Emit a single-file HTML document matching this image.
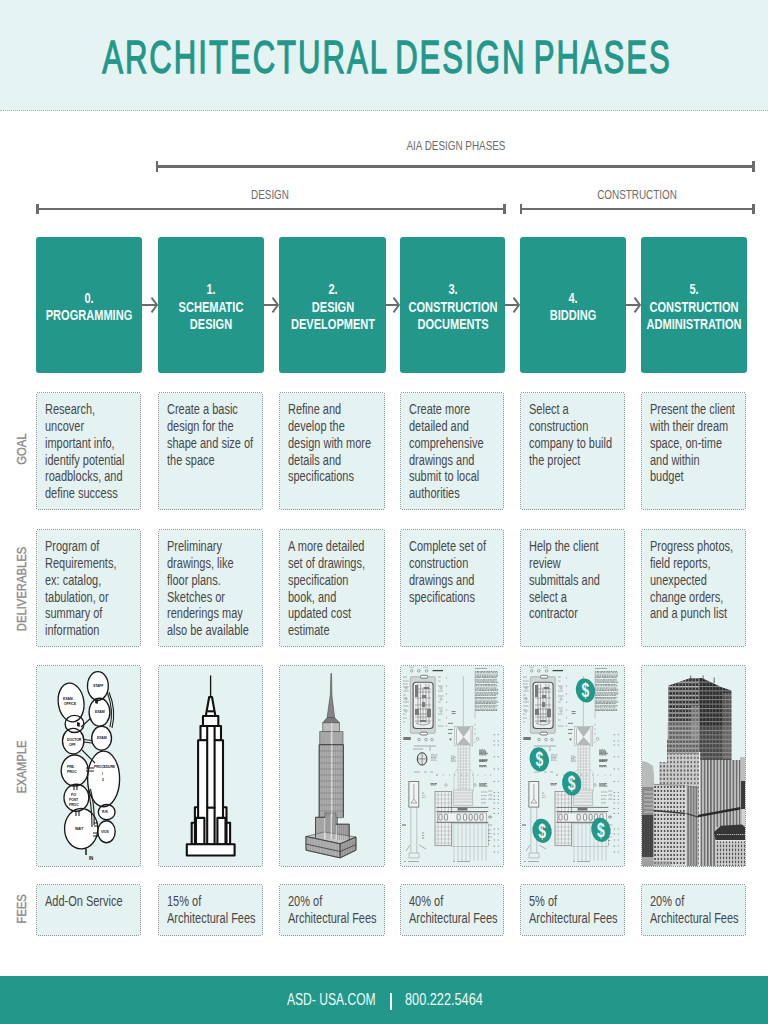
<!DOCTYPE html>
<html><head><meta charset="utf-8"><style>
html,body{margin:0;padding:0;width:768px;height:1024px;overflow:hidden;background:#fff}
body{position:relative;font-family:"Liberation Sans",sans-serif}
.t{position:absolute;white-space:nowrap}
</style></head><body>
<div style="position:absolute;left:0;top:0;width:768px;height:110px;background:#e6f3f3;border-bottom:1px dotted #a9b4b4"></div>
<div class="t" style="left:-213.2px;top:26.79px;width:1200px;text-align:center;font-size:46.5px;line-height:60px;color:#23978a;-webkit-text-stroke:1.3px #23978a;letter-spacing:3.0px;word-spacing:-5px;transform:scaleX(0.6685);transform-origin:600px 0">ARCHITECTURAL DESIGN PHASES</div>
<div class="t" style="left:255.5px;top:136.43px;width:400px;text-align:center;font-size:13.2px;line-height:20px;color:#6b6b6b;transform:scaleX(0.75);transform-origin:200px 0">AIA DESIGN PHASES</div>
<div class="t" style="left:70.25px;top:184.63px;width:400px;text-align:center;font-size:13.2px;line-height:20px;color:#6b6b6b;transform:scaleX(0.75);transform-origin:200px 0">DESIGN</div>
<div class="t" style="left:436.54999999999995px;top:184.83px;width:400px;text-align:center;font-size:13.2px;line-height:20px;color:#6b6b6b;transform:scaleX(0.75);transform-origin:200px 0">CONSTRUCTION</div>
<div style="position:absolute;left:156.5px;top:165.2px;width:597.5px;height:2.6px;background:#6b6b6b"></div>
<div style="position:absolute;left:155.5px;top:161.2px;width:2.6px;height:10.6px;background:#6b6b6b"></div>
<div style="position:absolute;left:752.4px;top:161.2px;width:2.6px;height:10.6px;background:#6b6b6b"></div>
<div style="position:absolute;left:37px;top:207.89999999999998px;width:468px;height:2.6px;background:#6b6b6b"></div>
<div style="position:absolute;left:36px;top:203.89999999999998px;width:2.6px;height:10.6px;background:#6b6b6b"></div>
<div style="position:absolute;left:503.4px;top:203.89999999999998px;width:2.6px;height:10.6px;background:#6b6b6b"></div>
<div style="position:absolute;left:520.5px;top:207.89999999999998px;width:233.5px;height:2.6px;background:#6b6b6b"></div>
<div style="position:absolute;left:519.5px;top:203.89999999999998px;width:2.6px;height:10.6px;background:#6b6b6b"></div>
<div style="position:absolute;left:752.4px;top:203.89999999999998px;width:2.6px;height:10.6px;background:#6b6b6b"></div>
<div style="position:absolute;left:36px;top:237px;width:106px;height:136px;background:#23978a;border-radius:3px"></div>
<div class="t" style="left:-61.0px;top:290.06px;width:300px;text-align:center;font-size:14.6px;line-height:17.2px;font-weight:bold;color:#f4fbfa;transform:scaleX(0.757);transform-origin:150px 0">0.<br>PROGRAMMING</div>
<div style="position:absolute;left:158px;top:237px;width:106px;height:136px;background:#23978a;border-radius:3px"></div>
<div class="t" style="left:61.0px;top:281.46px;width:300px;text-align:center;font-size:14.6px;line-height:17.2px;font-weight:bold;color:#f4fbfa;transform:scaleX(0.757);transform-origin:150px 0">1.<br>SCHEMATIC<br>DESIGN</div>
<div style="position:absolute;left:279px;top:237px;width:107px;height:136px;background:#23978a;border-radius:3px"></div>
<div class="t" style="left:182.5px;top:281.46px;width:300px;text-align:center;font-size:14.6px;line-height:17.2px;font-weight:bold;color:#f4fbfa;transform:scaleX(0.757);transform-origin:150px 0">2.<br>DESIGN<br>DEVELOPMENT</div>
<div style="position:absolute;left:400px;top:237px;width:105px;height:136px;background:#23978a;border-radius:3px"></div>
<div class="t" style="left:302.5px;top:281.46px;width:300px;text-align:center;font-size:14.6px;line-height:17.2px;font-weight:bold;color:#f4fbfa;transform:scaleX(0.757);transform-origin:150px 0">3.<br>CONSTRUCTION<br>DOCUMENTS</div>
<div style="position:absolute;left:520px;top:237px;width:106px;height:136px;background:#23978a;border-radius:3px"></div>
<div class="t" style="left:423.0px;top:290.06px;width:300px;text-align:center;font-size:14.6px;line-height:17.2px;font-weight:bold;color:#f4fbfa;transform:scaleX(0.757);transform-origin:150px 0">4.<br>BIDDING</div>
<div style="position:absolute;left:641px;top:237px;width:106px;height:136px;background:#23978a;border-radius:3px"></div>
<div class="t" style="left:544.0px;top:281.46px;width:300px;text-align:center;font-size:14.6px;line-height:17.2px;font-weight:bold;color:#f4fbfa;transform:scaleX(0.757);transform-origin:150px 0">5.<br>CONSTRUCTION<br>ADMINISTRATION</div>
<svg style="position:absolute;left:142px;top:295px" width="16" height="20" viewBox="0 0 16 20"><path d="M0 10 H15 M9.5 2.6 L15 10 L9.5 17.4" fill="none" stroke="#6b6b6b" stroke-width="2"/></svg>
<svg style="position:absolute;left:264px;top:295px" width="15" height="20" viewBox="0 0 15 20"><path d="M0 10 H14 M8.5 2.6 L14 10 L8.5 17.4" fill="none" stroke="#6b6b6b" stroke-width="2"/></svg>
<svg style="position:absolute;left:386px;top:295px" width="14" height="20" viewBox="0 0 14 20"><path d="M0 10 H13 M7.5 2.6 L13 10 L7.5 17.4" fill="none" stroke="#6b6b6b" stroke-width="2"/></svg>
<svg style="position:absolute;left:505px;top:295px" width="15" height="20" viewBox="0 0 15 20"><path d="M0 10 H14 M8.5 2.6 L14 10 L8.5 17.4" fill="none" stroke="#6b6b6b" stroke-width="2"/></svg>
<svg style="position:absolute;left:626px;top:295px" width="15" height="20" viewBox="0 0 15 20"><path d="M0 10 H14 M8.5 2.6 L14 10 L8.5 17.4" fill="none" stroke="#6b6b6b" stroke-width="2"/></svg>
<svg style="position:absolute;left:36px;top:392px" width="105" height="118"><rect x="0.5" y="0.5" width="104" height="117" rx="2" fill="#e5f2f2" stroke="#8c9696" stroke-width="1" stroke-dasharray="1 1" shape-rendering="crispEdges"/></svg>
<div class="t" style="left:44.8px;top:401.25px;font-size:14px;line-height:16.8px;color:#474747;transform:scaleX(0.785);transform-origin:0 0">Research,<br>uncover<br>important info,<br>identify potential<br>roadblocks, and<br>define success</div>
<svg style="position:absolute;left:158px;top:392px" width="105" height="118"><rect x="0.5" y="0.5" width="104" height="117" rx="2" fill="#e5f2f2" stroke="#8c9696" stroke-width="1" stroke-dasharray="1 1" shape-rendering="crispEdges"/></svg>
<div class="t" style="left:166.8px;top:401.25px;font-size:14px;line-height:16.8px;color:#474747;transform:scaleX(0.785);transform-origin:0 0">Create a basic<br>design for the<br>shape and size of<br>the space</div>
<svg style="position:absolute;left:279px;top:392px" width="106" height="118"><rect x="0.5" y="0.5" width="105" height="117" rx="2" fill="#e5f2f2" stroke="#8c9696" stroke-width="1" stroke-dasharray="1 1" shape-rendering="crispEdges"/></svg>
<div class="t" style="left:287.8px;top:401.25px;font-size:14px;line-height:16.8px;color:#474747;transform:scaleX(0.785);transform-origin:0 0">Refine and<br>develop the<br>design with more<br>details and<br>specifications</div>
<svg style="position:absolute;left:400px;top:392px" width="104" height="118"><rect x="0.5" y="0.5" width="103" height="117" rx="2" fill="#e5f2f2" stroke="#8c9696" stroke-width="1" stroke-dasharray="1 1" shape-rendering="crispEdges"/></svg>
<div class="t" style="left:408.8px;top:401.25px;font-size:14px;line-height:16.8px;color:#474747;transform:scaleX(0.785);transform-origin:0 0">Create more<br>detailed and<br>comprehensive<br>drawings and<br>submit to local<br>authorities</div>
<svg style="position:absolute;left:520px;top:392px" width="105" height="118"><rect x="0.5" y="0.5" width="104" height="117" rx="2" fill="#e5f2f2" stroke="#8c9696" stroke-width="1" stroke-dasharray="1 1" shape-rendering="crispEdges"/></svg>
<div class="t" style="left:528.8px;top:401.25px;font-size:14px;line-height:16.8px;color:#474747;transform:scaleX(0.785);transform-origin:0 0">Select a<br>construction<br>company to build<br>the project</div>
<svg style="position:absolute;left:641px;top:392px" width="105" height="118"><rect x="0.5" y="0.5" width="104" height="117" rx="2" fill="#e5f2f2" stroke="#8c9696" stroke-width="1" stroke-dasharray="1 1" shape-rendering="crispEdges"/></svg>
<div class="t" style="left:649.8px;top:401.25px;font-size:14px;line-height:16.8px;color:#474747;transform:scaleX(0.785);transform-origin:0 0">Present the client<br>with their dream<br>space, on-time<br>and within<br>budget</div>
<svg style="position:absolute;left:36px;top:529px" width="105" height="118"><rect x="0.5" y="0.5" width="104" height="117" rx="2" fill="#e5f2f2" stroke="#8c9696" stroke-width="1" stroke-dasharray="1 1" shape-rendering="crispEdges"/></svg>
<div class="t" style="left:44.8px;top:538.25px;font-size:14px;line-height:16.8px;color:#474747;transform:scaleX(0.785);transform-origin:0 0">Program of<br>Requirements,<br>ex: catalog,<br>tabulation, or<br>summary of<br>information</div>
<svg style="position:absolute;left:158px;top:529px" width="105" height="118"><rect x="0.5" y="0.5" width="104" height="117" rx="2" fill="#e5f2f2" stroke="#8c9696" stroke-width="1" stroke-dasharray="1 1" shape-rendering="crispEdges"/></svg>
<div class="t" style="left:166.8px;top:538.25px;font-size:14px;line-height:16.8px;color:#474747;transform:scaleX(0.785);transform-origin:0 0">Preliminary<br>drawings, like<br>floor plans.<br>Sketches or<br>renderings may<br>also be available</div>
<svg style="position:absolute;left:279px;top:529px" width="106" height="118"><rect x="0.5" y="0.5" width="105" height="117" rx="2" fill="#e5f2f2" stroke="#8c9696" stroke-width="1" stroke-dasharray="1 1" shape-rendering="crispEdges"/></svg>
<div class="t" style="left:287.8px;top:538.25px;font-size:14px;line-height:16.8px;color:#474747;transform:scaleX(0.785);transform-origin:0 0">A more detailed<br>set of drawings,<br>specification<br>book, and<br>updated cost<br>estimate</div>
<svg style="position:absolute;left:400px;top:529px" width="104" height="118"><rect x="0.5" y="0.5" width="103" height="117" rx="2" fill="#e5f2f2" stroke="#8c9696" stroke-width="1" stroke-dasharray="1 1" shape-rendering="crispEdges"/></svg>
<div class="t" style="left:408.8px;top:538.25px;font-size:14px;line-height:16.8px;color:#474747;transform:scaleX(0.785);transform-origin:0 0">Complete set of<br>construction<br>drawings and<br>specifications</div>
<svg style="position:absolute;left:520px;top:529px" width="105" height="118"><rect x="0.5" y="0.5" width="104" height="117" rx="2" fill="#e5f2f2" stroke="#8c9696" stroke-width="1" stroke-dasharray="1 1" shape-rendering="crispEdges"/></svg>
<div class="t" style="left:528.8px;top:538.25px;font-size:14px;line-height:16.8px;color:#474747;transform:scaleX(0.785);transform-origin:0 0">Help the client<br>review<br>submittals and<br>select a<br>contractor</div>
<svg style="position:absolute;left:641px;top:529px" width="105" height="118"><rect x="0.5" y="0.5" width="104" height="117" rx="2" fill="#e5f2f2" stroke="#8c9696" stroke-width="1" stroke-dasharray="1 1" shape-rendering="crispEdges"/></svg>
<div class="t" style="left:649.8px;top:538.25px;font-size:14px;line-height:16.8px;color:#474747;transform:scaleX(0.785);transform-origin:0 0">Progress photos,<br>field reports,<br>unexpected<br>change orders,<br>and a punch list</div>
<svg style="position:absolute;left:36px;top:665px" width="105" height="202"><rect x="0.5" y="0.5" width="104" height="201" rx="2" fill="#e5f2f2" stroke="#8c9696" stroke-width="1" stroke-dasharray="1 1" shape-rendering="crispEdges"/></svg>
<svg style="position:absolute;left:158px;top:665px" width="105" height="202"><rect x="0.5" y="0.5" width="104" height="201" rx="2" fill="#e5f2f2" stroke="#8c9696" stroke-width="1" stroke-dasharray="1 1" shape-rendering="crispEdges"/></svg>
<svg style="position:absolute;left:279px;top:665px" width="106" height="202"><rect x="0.5" y="0.5" width="105" height="201" rx="2" fill="#e5f2f2" stroke="#8c9696" stroke-width="1" stroke-dasharray="1 1" shape-rendering="crispEdges"/></svg>
<svg style="position:absolute;left:400px;top:665px" width="104" height="202"><rect x="0.5" y="0.5" width="103" height="201" rx="2" fill="#e5f2f2" stroke="#8c9696" stroke-width="1" stroke-dasharray="1 1" shape-rendering="crispEdges"/></svg>
<svg style="position:absolute;left:520px;top:665px" width="105" height="202"><rect x="0.5" y="0.5" width="104" height="201" rx="2" fill="#e5f2f2" stroke="#8c9696" stroke-width="1" stroke-dasharray="1 1" shape-rendering="crispEdges"/></svg>
<svg style="position:absolute;left:641px;top:665px" width="105" height="202"><rect x="0.5" y="0.5" width="104" height="201" rx="2" fill="#e5f2f2" stroke="#8c9696" stroke-width="1" stroke-dasharray="1 1" shape-rendering="crispEdges"/></svg>
<svg style="position:absolute;left:36px;top:884px" width="105" height="52"><rect x="0.5" y="0.5" width="104" height="51" rx="2" fill="#e5f2f2" stroke="#8c9696" stroke-width="1" stroke-dasharray="1 1" shape-rendering="crispEdges"/></svg>
<div class="t" style="left:44.8px;top:893.25px;font-size:14px;line-height:16.8px;color:#474747;transform:scaleX(0.785);transform-origin:0 0">Add-On Service</div>
<svg style="position:absolute;left:158px;top:884px" width="105" height="52"><rect x="0.5" y="0.5" width="104" height="51" rx="2" fill="#e5f2f2" stroke="#8c9696" stroke-width="1" stroke-dasharray="1 1" shape-rendering="crispEdges"/></svg>
<div class="t" style="left:166.8px;top:893.25px;font-size:14px;line-height:16.8px;color:#474747;transform:scaleX(0.785);transform-origin:0 0">15% of<br>Architectural Fees</div>
<svg style="position:absolute;left:279px;top:884px" width="106" height="52"><rect x="0.5" y="0.5" width="105" height="51" rx="2" fill="#e5f2f2" stroke="#8c9696" stroke-width="1" stroke-dasharray="1 1" shape-rendering="crispEdges"/></svg>
<div class="t" style="left:287.8px;top:893.25px;font-size:14px;line-height:16.8px;color:#474747;transform:scaleX(0.785);transform-origin:0 0">20% of<br>Architectural Fees</div>
<svg style="position:absolute;left:400px;top:884px" width="104" height="52"><rect x="0.5" y="0.5" width="103" height="51" rx="2" fill="#e5f2f2" stroke="#8c9696" stroke-width="1" stroke-dasharray="1 1" shape-rendering="crispEdges"/></svg>
<div class="t" style="left:408.8px;top:893.25px;font-size:14px;line-height:16.8px;color:#474747;transform:scaleX(0.785);transform-origin:0 0">40% of<br>Architectural Fees</div>
<svg style="position:absolute;left:520px;top:884px" width="105" height="52"><rect x="0.5" y="0.5" width="104" height="51" rx="2" fill="#e5f2f2" stroke="#8c9696" stroke-width="1" stroke-dasharray="1 1" shape-rendering="crispEdges"/></svg>
<div class="t" style="left:528.8px;top:893.25px;font-size:14px;line-height:16.8px;color:#474747;transform:scaleX(0.785);transform-origin:0 0">5% of<br>Architectural Fees</div>
<svg style="position:absolute;left:641px;top:884px" width="105" height="52"><rect x="0.5" y="0.5" width="104" height="51" rx="2" fill="#e5f2f2" stroke="#8c9696" stroke-width="1" stroke-dasharray="1 1" shape-rendering="crispEdges"/></svg>
<div class="t" style="left:649.8px;top:893.25px;font-size:14px;line-height:16.8px;color:#474747;transform:scaleX(0.785);transform-origin:0 0">20% of<br>Architectural Fees</div>
<div class="t" style="left:-78.2px;top:438.6px;width:200px;height:20px;text-align:center;font-size:12.5px;line-height:20px;color:#8a8a8a;-webkit-text-stroke:0.35px #8a8a8a;transform:rotate(-90deg) scaleX(0.9);transform-origin:100px 10.0px">GOAL</div>
<div class="t" style="left:-78.2px;top:578.7px;width:200px;height:20px;text-align:center;font-size:12.5px;line-height:20px;color:#8a8a8a;-webkit-text-stroke:0.35px #8a8a8a;transform:rotate(-90deg) scaleX(0.9);transform-origin:100px 10.0px">DELIVERABLES</div>
<div class="t" style="left:-78.2px;top:756.5px;width:200px;height:20px;text-align:center;font-size:12.5px;line-height:20px;color:#8a8a8a;-webkit-text-stroke:0.35px #8a8a8a;transform:rotate(-90deg) scaleX(0.9);transform-origin:100px 10.0px">EXAMPLE</div>
<div class="t" style="left:-78.2px;top:899.4px;width:200px;height:20px;text-align:center;font-size:12.5px;line-height:20px;color:#8a8a8a;-webkit-text-stroke:0.35px #8a8a8a;transform:rotate(-90deg) scaleX(0.9);transform-origin:100px 10.0px">FEES</div>
<div style="position:absolute;left:0;top:976px;width:768px;height:48px;background:#23978a"></div>
<div class="t" style="left:287px;top:990.06px;font-size:16px;line-height:20px;color:#eef8f6;transform:scaleX(0.755);transform-origin:0 0">ASD- USA.COM</div>
<div style="position:absolute;left:390.3px;top:993px;width:1.6px;height:17px;background:#eef8f6"></div>
<div class="t" style="left:405px;top:990.06px;font-size:16px;line-height:20px;color:#eef8f6;transform:scaleX(0.795);transform-origin:0 0">800.222.5464</div>
<svg style="position:absolute;left:37px;top:666px" width="104" height="200" viewBox="1 1 104 200">
<defs><g id="bub">
<ellipse cx="35.1" cy="37.5" rx="12.8" ry="19.5" transform="rotate(-8 35.1 37.5)"/>
<ellipse cx="61.9" cy="20.9" rx="10.4" ry="14.3"/>
<ellipse cx="63.5" cy="47.2" rx="10.4" ry="14"/>
<ellipse cx="38.5" cy="58.9" rx="9.4" ry="8.6"/>
<ellipse cx="37.2" cy="76.1" rx="10.7" ry="12.8"/>
<ellipse cx="65.6" cy="73.2" rx="9.9" ry="12"/>
<ellipse cx="67.6" cy="113.9" rx="16" ry="27.8"/>
<ellipse cx="38.7" cy="105.5" rx="13.5" ry="15.5"/>
<ellipse cx="40.4" cy="132.7" rx="12.4" ry="13.5"/>
<ellipse cx="45.2" cy="163.7" rx="16.6" ry="20.2"/>
<ellipse cx="70.7" cy="147.1" rx="8.4" ry="7.6"/>
<ellipse cx="70.5" cy="166.7" rx="8.7" ry="11"/>
</g></defs><use href="#bub" fill="#fff"/><use href="#bub" fill="none" stroke="#1a1a1a" stroke-width="1.35"/>
<g fill="none" stroke="#1e1e1e" stroke-width="1.1">
<path d="M71.5 28 Q78 45 74 62"/><path d="M73 27 Q80.5 45 76 63"/>
<path d="M55 53 L45 62"/>
<path d="M47.5 74.5 L56 75.5 M47.5 77 L56 78"/>
<path d="M46 85 L59 98"/>
<path d="M50 103 L58 103 M50 106 L58 106"/>
<path d="M52 125 Q56 140 56 162 M54.5 124 Q59 142 58 160"/>
<path d="M38 119 L38 125 M41 119 L41 125"/>
<path d="M40 146 L40 151 M43 146 L43 151"/>
<path d="M58 158 L62 158 M58 161 L62 161"/>
<path d="M57 168 L62 168 M57 171 L62 171"/>
<path d="M50 183.5 L50 190" stroke-width="1.5"/>
</g>
<path d="M59.5 33 L62.5 35 L61.5 39 L59 38 Z" fill="#1e1e1e"/>
<path d="M41 57 L44 58 L43.5 62 L41 61 Z" fill="#1e1e1e"/>
<g font-family="Liberation Sans" font-size="3.5" fill="#222" font-weight="bold" letter-spacing="-0.15">
<text x="57" y="22">STAFF</text>
<text x="27" y="35">EXAM.</text><text x="28" y="40">OFFICE</text>
<text x="59" y="48">EXAM</text>
<text x="31" y="76">DOCTOR</text><text x="33" y="81">OFF</text>
<text x="61" y="74">EXAM</text>
<text x="31" y="103">PRE-</text><text x="31" y="108">PROC</text>
<text x="58" y="103">PROCEDURE</text><text x="66" y="110">I</text><text x="66" y="116">2</text>
<text x="35" y="131">P.O</text><text x="33" y="136">POST</text><text x="33" y="141">PROC</text>
<text x="39" y="165">WAIT</text>
<text x="66" y="148">R.R.</text>
<text x="65" y="168">VIOS</text>
<text x="53" y="195" font-size="4.5">IN</text>
</g>
</svg>

<svg style="position:absolute;left:158px;top:665px" width="106" height="202" viewBox="0 0 106 202">
<g fill="#fff" stroke="#111" stroke-width="2.1" stroke-linejoin="round">
<path d="M52.6 10.5 L52.6 33" stroke-width="1.3"/>
<path d="M51.2 32 L54 32 L57.4 51 L47.8 51 Z"/>
<path d="M49.3 46.3 L55.9 46.3" fill="none"/>
<rect x="45" y="51" width="15.3" height="10"/>
<rect x="42.5" y="61" width="20.5" height="14.3"/>
<rect x="33.7" y="157.8" width="38.4" height="21.4"/>
<rect x="36.9" y="142.3" width="31.6" height="36.9"/>
<rect x="40.1" y="75.3" width="24.9" height="103.9"/>
<rect x="49.2" y="61" width="7.4" height="81.7"/>
<rect x="49.2" y="142.7" width="7.4" height="36.5"/>
<rect x="38" y="152.9" width="8.4" height="26.3"/>
<rect x="59.4" y="152.9" width="8.1" height="26.3"/>
<rect x="28.8" y="179.2" width="47.8" height="11.3"/>
</g>
</svg>

<svg style="position:absolute;left:279px;top:665px" width="107" height="202" viewBox="0 0 107 202">
<g stroke="#4a4a4a" stroke-width="0.6" stroke-linejoin="round">
<path d="M51.9 8.5 L52.5 8.5 L52.9 30 L53.6 36 L55.6 52.5 L48.1 52.5 L50.4 36 L51.3 30 Z" fill="#858585"/>
<path d="M48.1 52.5 L55.6 52.5 L60.5 57.7 L43.7 57.7 Z" fill="#7a7a7a"/>
<rect x="43.7" y="57.7" width="16.8" height="8.8" fill="#bdbdbd"/>
<rect x="40.7" y="66.5" width="23.3" height="13.2" fill="#b2b2b2"/>
<rect x="40.2" y="79.7" width="24.2" height="73" fill="#b4b4b4"/>
<rect x="36.5" y="152.3" width="22" height="21" fill="#b0b0b0"/>
<rect x="46" y="148" width="11" height="26" fill="#a5a5a5"/>
<rect x="57" y="159.2" width="13.2" height="16" fill="#a2a2a2"/>
<path d="M26.9 171.5 L45 167 L77 172 L61.1 178.8 Z" fill="#c4c4c4"/>
<path d="M26.9 171.5 L61.1 178.8 L61.1 192.9 L27.4 185.2 Z" fill="#b2b2b2"/>
<path d="M61.1 178.8 L77 172 L77 185.2 L61.1 192.9 Z" fill="#a0a0a0"/>
</g>
<g stroke="#7c7c7c" stroke-width="0.4" fill="none">
<path d="M42 80 V152 M43.8 80 V152 M45.6 80 V152 M47.4 80 V152 M49.2 80 V152 M51 80 V152 M54.6 80 V152 M56.4 80 V152 M58.2 80 V152 M60 80 V152 M61.8 80 V152 M63.4 80 V152"/>
<path d="M42 67 V79 M44 67 V79 M46 67 V79 M48 67 V79 M50 67 V79 M55 67 V79 M57 67 V79 M59 67 V79 M61 67 V79 M63 67 V79"/>
<path d="M38 153 V174 M40 153 V174 M42 153 V174 M44 153 V174 M48 149 V174 M50 149 V174 M54 149 V174 M56 149 V174 M58.5 160 V175 M60.5 160 V175 M62.5 160 V175 M64.5 160 V175 M66.5 160 V175 M68.5 160 V175"/>
<path d="M29 173 V185 M31.5 173.5 V186 M34 174 V186.5 M37 174.7 V187 M40 175.3 V187.8 M43 176 V188.5 M46 176.6 V189.3 M49 177.3 V190 M52 178 V190.8 M55 178.5 V191.5 M58 178.7 V192"/>
<path d="M63.5 177.8 V191.5 M66 176.7 V190.3 M68.5 175.6 V189.2 M71 174.5 V188 M73.5 173.5 V186.8 M76 172.3 V185.6"/>
</g>
<g stroke="#ececec" stroke-width="0.9" fill="none">
<path d="M52.8 57.7 V152 M52.3 149 V174 M45.8 153 V174 M57.2 160 V175"/>
</g>
<g stroke="#555" stroke-width="0.4" fill="none" opacity="0.8">
<path d="M40.2 86 H64.4 M40.2 92 H64.4 M40.2 98 H64.4 M40.2 104 H64.4 M40.2 110 H64.4 M40.2 116 H64.4 M40.2 122 H64.4 M40.2 128 H64.4 M40.2 134 H64.4 M40.2 140 H64.4 M40.2 146 H64.4"/>
</g>
<g stroke="#3a3a3a" stroke-width="0.8" fill="none">
<path d="M26.9 171.5 L61.1 178.8 L77 172 M61.1 178.8 V192.9 M26.9 171.5 V185.2 L61.1 192.9 L77 185.2 V172 M26.9 179 L61.1 186.5 L77 179.5"/>
<path d="M40.2 152.3 V79.7 H64.4 V152.3 M36.5 173 V152.3 H46 M57 159.2 H70.2 V175"/>
</g>
</svg>

<svg style="position:absolute;left:400px;top:665px" width="105" height="202" viewBox="0 0 105 202"><defs><g id="doc"><path d="M75 3.5h12" stroke="#777" stroke-width="0.6"/>
<g stroke="#4e4e4e" stroke-width="0.6" fill="none">
<path d="M75.3 6.5h1.1M76.9 6.5h2.1M79.5 6.5h0.9M80.9 6.5h1.9M83.3 6.5h1.5M85.4 6.5h0.9M86.8 6.5h1.8M89.1 6.5h0.9M90.5 6.5h1.7M92.6 6.5h0.9M94.1 6.5h1.0M95.5 6.5h1.6M97.7 6.5h0.1"/>
<path d="M75.3 7.8h1.2M77.0 7.8h2.1M79.6 7.8h2.7M82.8 7.8h2.0M85.3 7.8h1.6M87.3 7.8h2.8M90.6 7.8h0.9M92.0 7.8h2.5M95.0 7.8h1.4M96.9 7.8h1.1"/>
</g>
<g stroke="#4e4e4e" stroke-width="0.6" fill="none">
<path d="M75.3 10.0h1.4M77.2 10.0h2.4M80.1 10.0h1.2M81.8 10.0h2.0M84.3 10.0h2.1M86.9 10.0h1.5M88.9 10.0h1.9M91.3 10.0h0.9M92.7 10.0h0.9M94.1 10.0h1.2M95.8 10.0h2.2"/>
<path d="M75.3 11.3h1.4M77.2 11.3h2.0M79.7 11.3h1.7M81.9 11.3h1.4M83.8 11.3h2.4M86.7 11.3h2.2M89.4 11.3h1.3M91.2 11.3h1.9M93.6 11.3h1.9M96.0 11.3h1.5"/>
<path d="M75.3 12.6h1.4M77.2 12.6h2.8M80.4 12.6h1.0M82.0 12.6h1.6M84.1 12.6h2.3M86.9 12.6h1.1M88.5 12.6h1.8M90.8 12.6h0.9M92.2 12.6h2.1M94.8 12.6h1.8"/>
</g>
<g stroke="#4e4e4e" stroke-width="0.6" fill="none">
<path d="M75.3 14.8h2.6M78.4 14.8h1.4M80.3 14.8h2.2M83.0 14.8h2.0M85.5 14.8h2.0M87.9 14.8h1.7M90.1 14.8h2.5M93.1 14.8h2.7M96.3 14.8h0.8"/>
<path d="M75.3 16.1h0.9M76.7 16.1h2.2M79.4 16.1h2.1M82.0 16.1h2.8M85.3 16.1h2.4M88.2 16.1h1.4M90.1 16.1h1.6M92.2 16.1h2.1M94.8 16.1h0.8M96.2 16.1h0.6"/>
<path d="M75.3 17.4h1.0M76.8 17.4h0.9M78.3 17.4h2.3M81.1 17.4h1.1M82.6 17.4h1.3M84.4 17.4h1.6M86.5 17.4h2.5M89.6 17.4h1.0M91.0 17.4h1.7M93.2 17.4h1.9M95.6 17.4h2.6"/>
</g>
<g stroke="#4e4e4e" stroke-width="0.6" fill="none">
<path d="M75.3 19.5h2.5M78.3 19.5h1.4M80.2 19.5h1.6M82.3 19.5h1.5M84.3 19.5h2.6M87.4 19.5h2.7M90.6 19.5h1.1M92.2 19.5h1.2M93.9 19.5h1.3M95.6 19.5h0.7"/>
<path d="M75.3 20.8h2.0M77.8 20.8h1.3M79.6 20.8h0.8M80.9 20.8h1.6M83.0 20.8h1.5M85.1 20.8h1.9M87.5 20.8h2.7M90.7 20.8h2.2M93.4 20.8h1.8M95.7 20.8h1.6"/>
</g>
<g stroke="#4e4e4e" stroke-width="0.6" fill="none">
<path d="M75.3 23.0h0.9M76.7 23.0h2.6M79.8 23.0h2.4M82.7 23.0h2.5M85.7 23.0h2.4M88.6 23.0h1.6M90.7 23.0h1.6M92.8 23.0h1.0M94.3 23.0h2.1"/>
<path d="M75.3 24.3h0.9M76.7 24.3h1.2M78.5 24.3h1.1M80.1 24.3h1.5M82.1 24.3h0.9M83.5 24.3h0.8M84.8 24.3h1.1M86.4 24.3h1.0M87.9 24.3h1.5M89.9 24.3h0.9M91.2 24.3h2.5M94.3 24.3h2.0M96.8 24.3h1.1M98.4 24.3h0.2"/>
<path d="M75.3 25.6h1.5M77.3 25.6h1.0M78.9 25.6h2.5M81.9 25.6h2.8M85.2 25.6h1.7M87.4 25.6h1.8M89.7 25.6h1.0M91.1 25.6h1.0M92.6 25.6h1.5M94.6 25.6h1.3M96.4 25.6h1.3"/>
</g>
<g stroke="#4e4e4e" stroke-width="0.6" fill="none">
<path d="M75.3 27.8h0.8M76.6 27.8h2.7M79.8 27.8h1.9M82.2 27.8h1.1M83.8 27.8h1.9M86.2 27.8h0.9M87.5 27.8h1.9M89.9 27.8h2.8M93.2 27.8h2.5M96.2 27.8h2.1"/>
<path d="M75.3 29.1h1.5M77.3 29.1h1.1M79.0 29.1h2.3M81.8 29.1h1.9M84.2 29.1h2.4M87.0 29.1h1.5M89.0 29.1h1.2M90.7 29.1h2.4M93.7 29.1h2.8M96.9 29.1h1.1"/>
<path d="M75.3 30.4h2.4M78.2 30.4h2.3M81.0 30.4h1.3M82.8 30.4h1.8M85.1 30.4h1.5M87.1 30.4h0.9M88.5 30.4h0.9M89.8 30.4h1.4M91.7 30.4h1.3M93.5 30.4h2.2M96.2 30.4h0.2"/>
</g>
<g stroke="#4e4e4e" stroke-width="0.6" fill="none">
<path d="M75.3 32.5h2.7M78.5 32.5h2.8M81.8 32.5h2.7M85.0 32.5h1.5M87.0 32.5h1.2M88.7 32.5h1.3M90.5 32.5h1.2M92.2 32.5h1.2M93.9 32.5h2.0M96.4 32.5h1.0"/>
<path d="M75.3 33.8h1.8M77.6 33.8h2.1M80.2 33.8h2.4M83.1 33.8h1.0M84.5 33.8h2.1M87.2 33.8h2.6M90.3 33.8h2.4M93.1 33.8h2.3M95.9 33.8h0.3"/>
</g>
<g stroke="#4e4e4e" stroke-width="0.6" fill="none">
<path d="M75.3 36.0h2.4M78.2 36.0h1.5M80.1 36.0h2.4M83.0 36.0h2.7M86.3 36.0h1.6M88.4 36.0h1.6M90.5 36.0h2.7M93.7 36.0h2.2M96.4 36.0h1.1M98.1 36.0h0.2"/>
<path d="M75.3 37.3h2.6M78.4 37.3h2.4M81.3 37.3h1.1M82.9 37.3h2.5M85.9 37.3h2.8M89.1 37.3h2.1M91.7 37.3h1.5M93.7 37.3h1.9M96.1 37.3h1.1M97.7 37.3h0.6"/>
<path d="M75.3 38.6h2.1M77.9 38.6h1.9M80.3 38.6h2.7M83.4 38.6h1.7M85.6 38.6h2.5M88.6 38.6h2.5M91.6 38.6h1.2M93.3 38.6h1.3M95.1 38.6h0.8"/>
</g>
<g stroke="#4e4e4e" stroke-width="0.6" fill="none">
<path d="M75.3 40.8h2.0M77.8 40.8h1.3M79.6 40.8h1.6M81.7 40.8h1.1M83.3 40.8h2.6M86.4 40.8h1.5M88.4 40.8h1.7M90.6 40.8h2.0M93.1 40.8h2.6M96.2 40.8h1.6"/>
<path d="M75.3 42.0h1.8M77.6 42.0h1.9M80.0 42.0h1.8M82.3 42.0h0.8M83.7 42.0h1.7M85.8 42.0h1.2M87.5 42.0h0.8M88.8 42.0h2.4M91.7 42.0h1.1M93.3 42.0h1.7M95.6 42.0h0.5"/>
</g>
<g stroke="#4e4e4e" stroke-width="0.6" fill="none">
<path d="M75.3 44.2h1.5M77.3 44.2h1.8M79.6 44.2h1.9M82.0 44.2h2.4M84.9 44.2h1.0M86.4 44.2h1.9M88.8 44.2h1.3M90.6 44.2h1.4M92.5 44.2h2.3M95.3 44.2h1.8"/>
<path d="M75.3 45.5h2.3M78.1 45.5h2.6M81.2 45.5h1.7M83.4 45.5h2.0M86.0 45.5h1.8M88.3 45.5h1.8M90.6 45.5h2.2M93.3 45.5h1.7M95.5 45.5h1.6"/>
</g>
<path d="M75 5.5V53" stroke="#888" stroke-width="0.4"/>
<g stroke="#777" stroke-width="0.5" fill="none">
<path d="M3 12h3.9"/>
<path d="M3 16h5.8"/>
<path d="M3 19h4.8"/>
<path d="M3 22h5.5"/>
<path d="M3 26h5.8"/>
<path d="M3 30h3.0"/>
<path d="M3 33h4.2"/>
<path d="M3 37h5.8"/>
<path d="M3 41h5.4"/>
<path d="M3 45h2.5"/>
<path d="M3 49h2.5"/>
<path d="M3 53h3.8"/>
<path d="M3 57h2.3"/>
<path d="M38 12h3.0"/>
<path d="M38 16h2.3"/>
<path d="M38 21h4.7"/>
<path d="M38 26h5.1"/>
<path d="M38 31h5.6"/>
<path d="M38 37h2.6"/>
<path d="M38 43h4.9"/>
<path d="M38 49h4.6"/>
<path d="M38 55h2.6"/>
<path d="M38 61h5.5"/>
</g>
<g fill="none" stroke="#888" stroke-width="0.5"><circle cx="6" cy="23" r="1.2"/><circle cx="6" cy="34" r="1.2"/><circle cx="6" cy="46" r="1.2"/><circle cx="41" cy="23" r="1.2"/><circle cx="41" cy="34" r="1.2"/><circle cx="41" cy="46" r="1.2"/></g>
<g stroke="#666" stroke-width="0.8">
<path d="M46 13h0.9"/>
<path d="M46 21h0.9"/>
<path d="M46 29h0.9"/>
<path d="M46 37h0.9"/>
<path d="M46 45h0.9"/>
<path d="M46 53h0.9"/>
<path d="M46 61h0.9"/>
</g>
<g stroke="#6a6a6a" stroke-width="0.65" fill="none">
<path d="M93.5 69.7h1.6 M97.8 69.7h1.2"/>
<path d="M93.5 76.0h1.6 M97.8 76.0h1.2"/>
<path d="M93.5 80.0h1.6 M97.8 80.0h1.2"/>
<path d="M93.5 91.8h1.6 M97.8 91.8h1.2"/>
<path d="M93.5 104.0h1.6 M97.8 104.0h1.2"/>
<path d="M93.5 116.5h1.6 M97.8 116.5h1.2"/>
<path d="M93.5 127.5h1.6 M97.8 127.5h1.2"/>
<path d="M93.5 131.0h1.6 M97.8 131.0h1.2"/>
<path d="M93.5 134.5h1.6 M97.8 134.5h1.2"/>
<path d="M93.5 138.0h1.6 M97.8 138.0h1.2"/>
<path d="M93.5 143.5h1.6 M97.8 143.5h1.2"/>
<path d="M93.5 148.5h1.6 M97.8 148.5h1.2"/>
<path d="M93.5 164.0h1.6 M97.8 164.0h1.2"/>
<path d="M93.5 169.0h1.6 M97.8 169.0h1.2"/>
<path d="M93.5 175.0h1.6 M97.8 175.0h1.2"/>
<path d="M93.5 181.0h1.6 M97.8 181.0h1.2"/>
<path d="M93.5 187.0h1.6 M97.8 187.0h1.2"/>
</g>
<path d="M63.4 11 V61" stroke="#a5a9a9" stroke-width="0.6"/>
<rect x="54.8" y="61.4" width="18" height="19.5" fill="#eef2f2" stroke="#9a9a9a" stroke-width="0.5"/>
<path d="M56.5 62 L63.5 72 L71 62 Z M56.5 80 L63.5 72 L71 80 Z" fill="#b5b8b8"/>
<path d="M56.5 63.5 V79.5 M71 63.5 V79.5" stroke="#888" stroke-width="0.5"/>
<rect x="58" y="81" width="11.7" height="45" fill="#edf1f1"/>
<g fill="none" stroke="#a9adad" stroke-width="0.45">
<path d="M58 81 V126 M60.5 81 V126 M63.2 81 V126 M66 81 V126 M69.7 81 V126"/>
<path d="M58 84H69.7M58 87H69.7M58 90H69.7M58 93H69.7M58 96H69.7M58 99H69.7M58 102H69.7M58 105H69.7M58 108H69.7M58 111H69.7M58 114H69.7M58 117H69.7M58 120H69.7M58 123H69.7"/>
<path d="M54 108 L58 104 M73.5 108 L69.7 104 M54 108 V126 M73.5 108 V126"/>
</g>
<g stroke="#555" stroke-width="0.7"><path d="M48 58.3h5 M48 64.5h5 M48 68.4h4 M51.7 46.5h4 M51.7 48.5h4"/></g>
<path d="M49 73.5 h3 l-1.5 2.5z" fill="#777"/>
<circle cx="77.5" cy="73.9" r="1.5" fill="none" stroke="#888" stroke-width="0.5"/>
<path d="M74 60h2 M74 64h2 M74 69h2 M74 77h2" stroke="#888" stroke-width="0.5"/>
<g stroke="#4a4a4a" stroke-width="0.75" fill="none">
<path d="M79.2 85.0h1.2M80.7 85.0h2.7M83.7 85.0h1.4"/>
<path d="M79.2 86.2h2.8M82.3 86.2h2.5M85.0 86.2h1.1M86.5 86.2h0.1"/>
<path d="M79.2 87.4h1.5M81.0 87.4h1.2M82.5 87.4h1.4M84.2 87.4h2.2"/>
<path d="M79.2 88.6h1.9M81.4 88.6h1.7M83.4 88.6h0.8M84.5 88.6h1.5M86.3 88.6h1.7"/>
<path d="M79.2 89.8h0.9M80.4 89.8h2.8M83.5 89.8h2.4M86.2 89.8h0.3"/>
</g>
<g stroke="#4a4a4a" stroke-width="0.75" fill="none">
<path d="M79.2 95.0h1.3M80.8 95.0h0.9M82.0 95.0h2.4M84.7 95.0h1.3M86.3 95.0h1.1M87.7 95.0h0.0"/>
<path d="M79.2 96.2h2.4M81.9 96.2h1.3M83.6 96.2h1.1M85.0 96.2h0.3"/>
</g>
<g stroke="#4a4a4a" stroke-width="0.75" fill="none">
<path d="M79.2 100.5h2.2M81.7 100.5h1.0M83.0 100.5h0.9M84.2 100.5h2.1"/>
<path d="M79.2 101.7h0.9M80.4 101.7h2.7M83.4 101.7h2.1M85.8 101.7h0.9"/>
</g>
<g stroke="#4a4a4a" stroke-width="0.75" fill="none">
<path d="M79.2 95.0h2.5M82.0 95.0h0.9M83.2 95.0h2.5M86.1 95.0h1.7"/>
<path d="M79.2 96.2h1.9M81.4 96.2h2.7M84.4 96.2h1.3M86.0 96.2h1.0"/>
</g>
<g stroke="#777" stroke-width="0.6" fill="none">
<path d="M51.0 91.0h1.3M52.8 91.0h1.0M54.3 91.0h0.5"/>
<path d="M51.0 92.3h1.2M52.7 92.3h1.4M54.6 92.3h1.4"/>
<path d="M51.0 93.6h1.4M52.9 93.6h1.2"/>
<path d="M51.0 94.9h1.5M53.0 94.9h0.8M54.3 94.9h1.3"/>
<path d="M51.0 96.2h2.3M53.8 96.2h1.9M56.2 96.2h0.2"/>
</g>
<g stroke="#888" stroke-width="0.6" fill="none">
<path d="M31.0 89.7h2.7M34.2 89.7h1.0M35.7 89.7h1.5"/>
<path d="M31.0 91.1h1.8M33.3 91.1h2.5M36.3 91.1h1.0"/>
<path d="M31.0 92.5h2.2M33.7 92.5h2.8M36.9 92.5h0.1"/>
<path d="M31.0 93.9h2.2M33.7 93.9h2.1"/>
<path d="M31.0 95.3h1.5M33.0 95.3h0.9M34.4 95.3h1.1M36.0 95.3h0.9"/>
</g>
<g stroke="#4a4a4a" stroke-width="0.8" fill="none">
<path d="M30.5 118.5h1.3M32.1 118.5h1.1M33.5 118.5h1.0M34.8 118.5h2.0"/>
<path d="M30.5 119.8h2.1M32.9 119.8h1.4M34.6 119.8h1.3M36.2 119.8h0.2"/>
</g>
<g stroke="#4a4a4a" stroke-width="0.8" fill="none">
<path d="M79.2 118.7h1.1M80.6 118.7h1.7M82.6 118.7h1.3M84.2 118.7h2.7"/>
<path d="M79.2 119.9h1.9M81.4 119.9h1.3M83.0 119.9h2.4"/>
<path d="M79.2 121.1h1.5M81.0 121.1h0.8M82.1 121.1h1.6M84.0 121.1h1.7M86.0 121.1h1.3"/>
</g>
<g stroke="#777" stroke-width="0.7">
<path d="M36.4 110h0.9"/>
<path d="M42.8 110h0.9"/>
<path d="M49 110h0.9"/>
<path d="M54.6 110h0.9"/>
<path d="M61 110h0.9"/>
<path d="M66.5 110h0.9"/>
<path d="M72 110h0.9"/>
<path d="M77.4 110h0.9"/>
<path d="M84.7 110h0.9"/>
<path d="M90.2 110h0.9"/>
</g>
<circle cx="46" cy="120" r="1.3" fill="none" stroke="#888" stroke-width="0.5"/><circle cx="75" cy="120" r="1.3" fill="none" stroke="#888" stroke-width="0.5"/>
<rect x="35" y="126.4" width="16.4" height="54.3" fill="#e9eeee" stroke="#8a8a8a" stroke-width="0.8"/>
<rect x="53.2" y="125" width="19.6" height="15.6" fill="#e4e9e9" stroke="#9a9a9a" stroke-width="0.5"/>
<g fill="none" stroke="#a0a4a4" stroke-width="0.45">
<path d="M53.2 128H72.8M53.2 131H72.8M53.2 134H72.8M53.2 137H72.8"/>
<path d="M35 130H51.4M35 134H51.4M35 138H51.4M35 162H51.4M35 166H51.4M35 170H51.4M35 174H51.4M35 178H51.4"/>
<path d="M54 158.8V196M58 158.8V196M62 158.8V196M66 158.8V196M70 158.8V196M74 158.8V196M78 158.8V196M82 158.8V196M86 158.8V196"/>
<path d="M38 126.4V180M41.5 126.4V180M45 126.4V180M48.5 126.4V180"/>
</g>
<rect x="51.9" y="158.8" width="36.4" height="22.8" fill="none" stroke="#999" stroke-width="0.5"/>
<path d="M36.4 142.4H88.3 M36.4 146.5H88.3 M36.4 157.4H88.3" stroke="#5a5a5a" stroke-width="0.8"/>
<rect x="37.3" y="147.9" width="49.2" height="9.1" fill="#eef2f2" stroke="#777" stroke-width="0.5"/>
<g fill="none" stroke="#666" stroke-width="0.7">
<rect x="38.9" y="149.2" width="3.2" height="6" rx="1.2"/>
<rect x="44.4" y="149.2" width="3.2" height="6" rx="1.2"/>
<rect x="57.0" y="149.2" width="3.2" height="6" rx="1.2"/>
<rect x="63.4" y="149.2" width="3.2" height="6" rx="1.2"/>
<rect x="69.0" y="149.2" width="3.2" height="6" rx="1.2"/>
<rect x="74.4" y="149.2" width="3.2" height="6" rx="1.2"/>
<rect x="79.9" y="149.2" width="3.2" height="6" rx="1.2"/>
</g>
<path d="M57.5 142.5 h10 v3 h-10z" fill="#777"/>
<path d="M88.3 126 h4 M88.3 130 h4 M88.3 134h4 M88.3 152 h4 M88.3 160h4" stroke="#666" stroke-width="0.5"/>
<circle cx="90" cy="152" r="1.3" fill="none" stroke="#777" stroke-width="0.5"/>
<g stroke="#666" stroke-width="0.55" fill="none">
<path d="M81.0 127.0h1.8M83.3 127.0h0.8M84.6 127.0h1.3M86.4 127.0h0.9"/>
<path d="M81.0 130.6h0.9M82.4 130.6h0.8M83.7 130.6h1.4M85.6 130.6h1.2"/>
<path d="M81.0 134.2h1.9M83.4 134.2h2.3M86.2 134.2h0.1"/>
<path d="M81.0 137.8h2.6M84.1 137.8h1.6"/>
</g>
<g stroke="#666" stroke-width="0.55" fill="none">
<path d="M88.0 165.0h2.8"/>
<path d="M88.0 168.5h2.2M90.7 168.5h0.8"/>
<path d="M88.0 172.0h2.5M91.0 172.0h0.9"/>
<path d="M88.0 175.5h2.1"/>
<path d="M88.0 179.0h1.1"/>
</g>
<rect x="10.4" y="11.7" width="24.8" height="56.6" fill="#cfd6d6" stroke="#999" stroke-width="0.6" rx="1"/>
<rect x="13.1" y="17.3" width="20" height="46.2" fill="#e9eeee" stroke="#585858" stroke-width="1.1" rx="3"/>
<g fill="none" stroke="#777" stroke-width="0.55">
<path d="M15 24H31 M15 27H31 M15 33H31 M15 40H31 M15 44H31 M15 49H31 M15 52H31 M15 56H31 M18 19V58 M20.5 19V58 M23 22V56 M26 19V58 M29 19V58"/>
</g>
<path d="M15 20 h3 v12 h-3z M22 30 h4 v3 h-4z M15 44 h4 v6 h-4z M27 44h4v8h-4z M20 55h6v2h-6z M24 22h5v2h-5z M22 37h3v5h-3z" fill="#7a7a7a"/>
<path d="M16 58 Q23 62 30 58" fill="none" stroke="#666" stroke-width="0.6"/>
<rect x="20.3" y="10.3" width="7.5" height="2.8" rx="1.4" fill="#fff" stroke="#444" stroke-width="0.7"/>
<rect x="20" y="67.2" width="7.5" height="2.8" rx="1.4" fill="#fff" stroke="#444" stroke-width="0.7"/>
<g fill="none" stroke="#777" stroke-width="0.6"><circle cx="11.8" cy="5.8" r="1.3"/><circle cx="18.8" cy="5.8" r="1.3"/><circle cx="26.6" cy="5.8" r="1.3"/></g>
<path d="M32.5 5.6h10.5" stroke="#444" stroke-width="1.3"/>
<path d="M9 2.2h5 M23 2.2h5" stroke="#888" stroke-width="0.5"/>
<rect x="3.3" y="72" width="7.5" height="3" fill="#777"/>
<g fill="none" stroke="#777" stroke-width="0.6"><circle cx="19" cy="74.6" r="1.3"/><circle cx="26" cy="74.6" r="1.3"/><circle cx="32" cy="74.6" r="1.3"/>
<path d="M14 81h22 M13 84h10 M30 82v4"/>
</g>
<ellipse cx="22.1" cy="93.9" rx="4.8" ry="6.2" fill="#dfe4e4" stroke="#333" stroke-width="1"/>
<path d="M22.1 88.5V99.3 M18 93.9H26" stroke="#555" stroke-width="0.6"/>
<path d="M14 107 L 20 107 M24 107h3 M30 107h3 M36 110h2" stroke="#888" stroke-width="0.6"/>
<rect x="8.9" y="116.5" width="9.9" height="25.6" fill="#f0f3f3" stroke="#666" stroke-width="0.8"/>
<path d="M13.9 119V134 L11 138 H16.8 L13.9 134" stroke="#777" stroke-width="0.6" fill="none"/>
<path d="M10.9 142.1V188 M16.8 142.1V188 M9 188h10v5h-10z" stroke="#a0a0a0" stroke-width="0.6" fill="none"/>
<path d="M10 180 L6 186 M19 180 L26 184" stroke="#888" stroke-width="0.6" fill="none"/>
<g stroke="#666" stroke-width="0.7" fill="none">
<path d="M22.0 168.0h1.8M24.3 168.0h0.1"/>
<path d="M22.0 170.5h1.6"/>
<path d="M22.0 173.0h2.2"/>
</g>
<path d="M2 160h4" stroke="#777" stroke-width="1.2"/>
<g stroke="#888" stroke-width="0.6" fill="none">
<path d="M22.0 128.0h2.0"/>
<path d="M22.0 130.2h0.9M23.4 130.2h1.1M24.9 130.2h0.4"/>
<path d="M22.0 132.4h2.5M25.0 132.4h0.7"/>
</g>
<path d="M4 196.5h2 M8 196.5h11 M53 196.5h2 M57 196.5h13" stroke="#888" stroke-width="0.7"/></g></defs><use href="#doc"/></svg>
<svg style="position:absolute;left:520px;top:665px" width="106" height="202" viewBox="0 0 106 202"><use href="#doc"/><g transform="translate(65.5 25.5) rotate(-12)"><ellipse rx="9.6" ry="12.2" fill="#23978a"/></g><text x="65.5" y="32.5" font-family="Liberation Sans" font-weight="bold" font-size="20.5" fill="#f2fbf9" text-anchor="middle" transform="translate(65.5 0) scale(0.68 1) translate(-65.5 0)">$</text><g transform="translate(19.3 94.4) rotate(-10)"><ellipse rx="9.6" ry="12.2" fill="#23978a"/></g><text x="19.3" y="101.4" font-family="Liberation Sans" font-weight="bold" font-size="20.5" fill="#f2fbf9" text-anchor="middle" transform="translate(19.3 0) scale(0.68 1) translate(-19.3 0)">$</text><g transform="translate(51.7 118.4) rotate(-8)"><ellipse rx="9.6" ry="12.2" fill="#23978a"/></g><text x="51.7" y="125.4" font-family="Liberation Sans" font-weight="bold" font-size="20.5" fill="#f2fbf9" text-anchor="middle" transform="translate(51.7 0) scale(0.68 1) translate(-51.7 0)">$</text><g transform="translate(22.1 165.8) rotate(-10)"><ellipse rx="9.6" ry="12.2" fill="#23978a"/></g><text x="22.1" y="172.8" font-family="Liberation Sans" font-weight="bold" font-size="20.5" fill="#f2fbf9" text-anchor="middle" transform="translate(22.1 0) scale(0.68 1) translate(-22.1 0)">$</text><g transform="translate(80.9 164.8) rotate(-10)"><ellipse rx="9.6" ry="12.2" fill="#23978a"/></g><text x="80.9" y="171.8" font-family="Liberation Sans" font-weight="bold" font-size="20.5" fill="#f2fbf9" text-anchor="middle" transform="translate(80.9 0) scale(0.68 1) translate(-80.9 0)">$</text></svg>
<svg style="position:absolute;left:642px;top:666px" width="103" height="200" viewBox="1 1 103 200"><g><defs>
<pattern id="win" width="3.2" height="4" patternUnits="userSpaceOnUse" x="12.4" y="120"><rect width="3.2" height="4" fill="#d6d6d6"/><rect x="0.9" y="0.9" width="1.5" height="2.1" fill="#4a4a4a"/></pattern>
<pattern id="win2" width="3.4" height="4.2" patternUnits="userSpaceOnUse" x="18" y="95"><rect width="3.4" height="4.2" fill="#cdcdcd"/><rect x="1" y="1" width="1.5" height="2.2" fill="#555"/></pattern>
<pattern id="str" width="3.2" height="10" patternUnits="userSpaceOnUse" x="58" y="0"><rect width="3.2" height="10" fill="#c4c4c4"/><rect x="1.8" width="1.1" height="10" fill="#474747"/></pattern>
<pattern id="str2" width="2.8" height="10" patternUnits="userSpaceOnUse" x="45" y="0"><rect width="2.8" height="10" fill="#bcbcbc"/><rect x="1.5" width="1" height="10" fill="#4a4a4a"/></pattern>
<pattern id="frame" width="3.3" height="4.4" patternUnits="userSpaceOnUse" x="27.6" y="21"><rect width="3.3" height="4.4" fill="#353535"/><rect width="3.3" height="1.3" fill="#c4c4c4"/><rect width="0.8" height="4.4" fill="#8a8a8a"/></pattern>
<pattern id="frame2" width="3.3" height="4.4" patternUnits="userSpaceOnUse" x="58" y="21"><rect width="3.3" height="4.4" fill="#2c2c2c"/><rect width="3.3" height="1" fill="#8e8e8e"/><rect width="0.7" height="4.4" fill="#6a6a6a"/></pattern>
<pattern id="win3" width="3" height="4" patternUnits="userSpaceOnUse" x="75" y="175"><rect width="3" height="4" fill="#d2d2d2"/><rect x="0.9" y="0.6" width="1.3" height="2.6" fill="#555"/></pattern>
</defs>

<path d="M0 96 L6 97 L12 101 L13 110 L13 202 L0 202 Z" fill="#b9bbbb"/>
<rect x="0" y="122" width="13" height="28" fill="#8a8a8a"/>
<rect x="3" y="126" width="9" height="22" fill="#a8a8a8"/>
<path d="M3 129h9 M3 133h9 M3 137h9 M3 141h9 M3 145h9" stroke="#666" stroke-width="0.8"/>
<rect x="0" y="150" width="13" height="44" fill="#474747"/>
<rect x="0" y="192" width="14" height="10" fill="#a5a5a5"/>
<rect x="99" y="92" width="7" height="70" fill="#bdbdbd"/>
<rect x="100" y="116" width="6" height="28" fill="#3a3a3a"/>
<rect x="101" y="144" width="5" height="16" fill="#d4d4d4"/>
<path d="M27.6 20.7 L49.7 13.1 L60.7 13.1 L71.8 17.9 L80 22.1 L90.4 25.5 L90.4 97 L26.2 97 L26.2 74.5 L27.6 74.5 Z" fill="url(#frame2)"/>
<path d="M27.6 20.7 L49.7 13.1 L58 13.1 L58 97 L26.2 97 L26.2 74.5 L27.6 74.5 Z" fill="url(#frame)"/>
<rect x="49.7" y="41" width="9" height="33.5" fill="#9a9a9a" opacity="0.55"/>
<rect x="26.2" y="58" width="32" height="32" fill="#aaa" opacity="0.4"/>
<rect x="58" y="62" width="32.4" height="33" fill="#888" opacity="0.3"/>
<rect x="82" y="28" width="8.4" height="66" fill="#aaa" opacity="0.3"/>
<path d="M49.7 10.4 V15 M62.1 10.4 V14 M73.2 12.4 V18" stroke="#333" stroke-width="0.7"/>
<rect x="18" y="97" width="40" height="105" fill="url(#win2)"/>
<rect x="26.2" y="89" width="32" height="8" fill="url(#win2)"/>
<rect x="58" y="95" width="41.4" height="107" fill="url(#str)"/>
<path d="M58.5 87 V202" stroke="#eee" stroke-width="1.4"/>
<path d="M45 152 L99.4 142 L99.4 144.5 L45 154.5 Z" fill="#2a2a2a"/>
<rect x="12.4" y="119.3" width="32.5" height="82.7" fill="url(#win)"/>
<rect x="44.9" y="121" width="12.1" height="81" fill="url(#str2)"/>
<path d="M12.4 119.3 L44.9 120.5 L57 123" stroke="#777" stroke-width="0.8" fill="none"/>
<path d="M12.4 145.5 L44.9 148.5 L57 152" stroke="#3a3a3a" stroke-width="1.3" fill="none"/>
<path d="M44.9 119.3 V202" stroke="#efefef" stroke-width="0.9"/>
<rect x="74.5" y="162" width="31.5" height="40" fill="url(#win3)"/>
<path d="M73 167 L80 160.7 L101 159.5 L106 164 L106 176 L74.5 175 Z" fill="#353535"/>
<path d="M76 169.5 H104" stroke="#c8c8c8" stroke-width="1.2" stroke-dasharray="1.2 0.9"/>
<rect x="74.5" y="175" width="31.5" height="1.5" fill="#e2e2e2"/>
<rect x="0" y="196" width="30" height="6" fill="#9a9a9a" opacity="0.6"/></g></svg>
</body></html>
